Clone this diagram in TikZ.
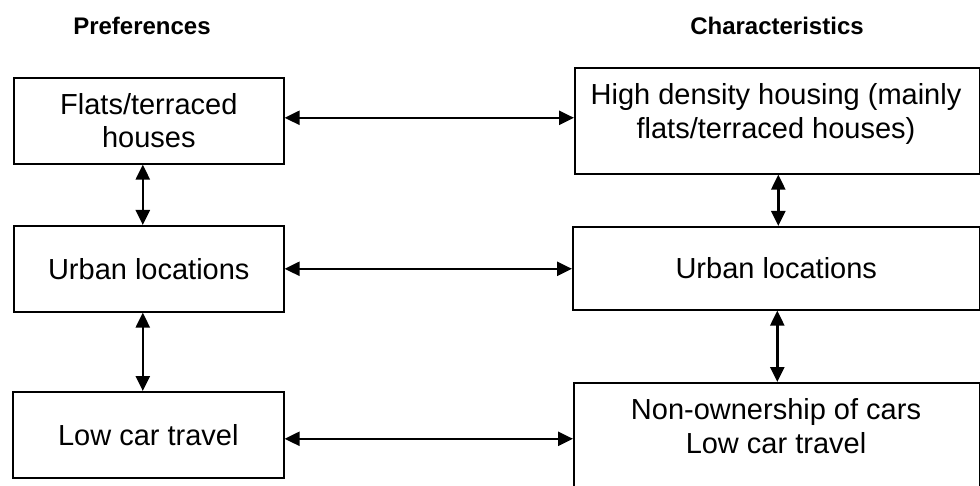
\documentclass[tikz,border=0pt]{standalone}
\usepackage{fontspec}
\setmainfont{Liberation Sans}
\usetikzlibrary{arrows.meta}
\begin{document}
\begin{tikzpicture}[x=1pt,y=-1pt,
  box/.style={draw, line width=1.6pt, rectangle, inner sep=0pt, anchor=north west,
    align=center, font=\fontsize{29}{33}\selectfont},
  txt/.style={align=center, inner sep=0pt, font=\fontsize{29}{34}\selectfont},
  head/.style={font=\bfseries\fontsize{24}{28}\selectfont, inner sep=0pt, anchor=base},
  link/.style={{Triangle[length=15pt,width=14pt]}-{Triangle[length=15pt,width=14pt]}, line width=2.4pt}
]
\useasboundingbox (0,0) rectangle (980,486);
\clip (0,0) rectangle (980,486);

% column headings
\node[head] (hpref) at (142,35) {Preferences};
\node[head] (hchar) at (777,35) {Characteristics};

% preferences column
\node[box, minimum width=270pt, minimum height=86pt] (L1) at (13,77) {Flats/terraced\\houses};
\node[box, minimum width=270pt, minimum height=86pt] (L2) at (13,225) {Urban locations};
\node[box, minimum width=271pt, minimum height=86pt] (L3) at (12,391) {Low car travel};

% characteristics column
\node[box, minimum width=405pt, minimum height=106pt] (R1) at (574,67) {};
\node[txt] (R1t) at (776,113.5) {High density housing (mainly\\flats/terraced houses)};
\node[box, minimum width=407pt, minimum height=83pt] (R2) at (572,226) {Urban locations};
\node[box, minimum width=406pt, minimum height=130pt] (R3) at (573,382) {};
\node[txt] (R3t) at (776,426) {Non-ownership of cars\\Low car travel};

% links between preferences and characteristics
\draw[link] ([yshift=3pt]L1.east) -- ([yshift=3pt]L1.east -| R1.west);
\draw[link] (L2.east) -- (L2.east -| R2.west);
\draw[link] ([yshift=-4pt]L3.east) -- ([yshift=-4pt]L3.east -| R3.west);

% links within each column
\draw[link] ([xshift=-6pt]L1.south) -- ([xshift=-6pt]L2.north);
\draw[link] ([xshift=-6pt]L2.south) -- ([xshift=-6pt]L2.south |- L3.north);
\draw[link] ([xshift=1pt]R1.south) -- ([xshift=1pt]R1.south |- R2.north);
\draw[link] ([xshift=1pt]R2.south) -- ([xshift=1pt]R2.south |- R3.north);
\end{tikzpicture}
\end{document}
